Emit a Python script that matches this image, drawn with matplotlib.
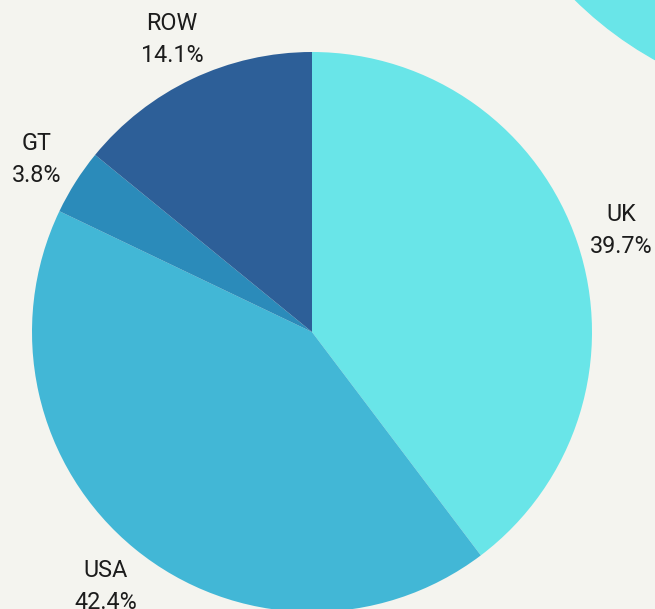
import matplotlib
matplotlib.use("Agg")
import matplotlib.pyplot as plt
from matplotlib.patches import Circle

categories = ["UK", "USA", "GT", "ROW"]
values = [39.7, 42.4, 3.8, 14.1]
colors = ["#69E5E8", "#42B7D6", "#2B8BBA", "#2D5F98"]
bg = "#F4F4EF"

plt.rcParams['font.family'] = ['Roboto', 'DejaVu Sans']

fig = plt.figure(figsize=(6.55, 6.09), dpi=100, facecolor=bg)
ax = fig.add_axes([0, 0, 1, 1])
ax.set_facecolor(bg)

# decorative circle top-right
ax.add_patch(Circle((834, 871), 368, color=colors[0], zorder=0))

labels = [f"{c}\n{v}%" for c, v in zip(categories, values)]
wedges, texts = ax.pie(values, labels=labels, colors=colors, startangle=90,
                       counterclock=False, center=(312, 277), radius=280,
                       labeldistance=1.165, frame=True,
                       textprops=dict(fontsize=16.8, color="#1c1c1c",
                                      linespacing=1.52))
for t in texts:
    t.set_horizontalalignment('center')
    t.set_verticalalignment('center')
    x, y = t.get_position()
    t.set_position((x, y - 2))
ax.set_xlim(0, 655)
ax.set_ylim(0, 609)
ax.set_aspect('equal')
ax.axis('off')

fig.savefig("out.png", dpi=100, facecolor=bg)
